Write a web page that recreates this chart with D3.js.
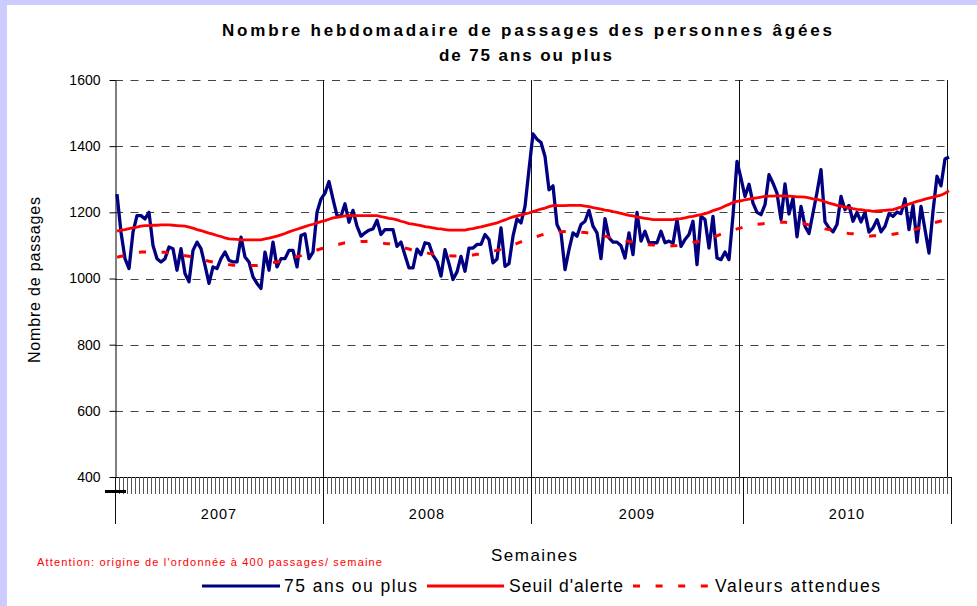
<!DOCTYPE html>
<html>
<head>
<meta charset="utf-8">
<script src="https://cdn.jsdelivr.net/npm/d3@7"></script>
<style>
  body { margin: 0; background: #fff; }
  text { font-family: Arial, "Liberation Sans", sans-serif; }
</style>
</head>
<body>
<svg id="graphe" width="977" height="606"></svg>
<script>
// Données
const annees = ["2007", "2008", "2009", "2010"];
const semainesParAnnee = [52, 52, 53, 52];
const ticksY = [400, 600, 800, 1000, 1200, 1400, 1600];

// 75 ans ou plus (passages hebdomadaires)
const passages = [
  // 2007
  1255,1140,1060,1030,1140,1190,1190,1180,1200,1100,1060,1050,1060,1095,1090,1025,1090,1015,990,1085,1110,1090,1040,985,1035,1030,
  1060,1080,1055,1050,1050,1125,1065,1050,1005,985,970,1080,1025,1110,1035,1060,1060,1085,1085,1035,1130,1135,1060,1080,1200,1240,
  // 2008
  1258,1293,1240,1190,1188,1226,1170,1206,1158,1128,1138,1146,1150,1176,1133,1148,1148,1148,1097,1110,1070,1032,1032,1089,1072,1108,
  1105,1070,1052,1007,1087,1045,997,1020,1067,1022,1092,1092,1103,1103,1133,1118,1047,1059,1153,1037,1045,1128,1180,1168,1218,1330,
  // 2009
  1437,1421,1411,1369,1268,1280,1163,1138,1027,1087,1138,1128,1163,1173,1206,1158,1138,1060,1181,1123,1110,1110,1099,1062,1138,1072,
  1200,1113,1143,1108,1108,1108,1143,1108,1113,1106,1178,1097,1118,1133,1173,1042,1188,1178,1092,1188,1062,1057,1080,1057,1190,1354,1303,
  // 2010
  1248,1285,1228,1200,1193,1223,1314,1288,1258,1178,1286,1195,1243,1126,1218,1158,1136,1198,1260,1329,1171,1153,1141,1163,1248,1208,
  1221,1173,1200,1171,1200,1140,1153,1178,1141,1158,1196,1188,1201,1196,1241,1148,1221,1110,1218,1148,1077,1203,1309,1280,1361,1367
];

// Seuil d'alerte
const seuil = [
  1143,1146,1148,1151,1153,1155,1158,1160,1160,1161,1161,1162,1162,1162,1161,1160,1159,1158,1155,1152,1148,1145,1141,1137,1134,1130,
  1127,1123,1120,1119,1118,1117,1117,1117,1117,1117,1117,1120,1122,1125,1128,1132,1136,1141,1145,1149,1153,1157,1161,1164,1168,1172,
  1175,1179,1183,1185,1187,1189,1190,1190,1190,1190,1190,1190,1190,1190,1187,1185,1182,1180,1177,1173,1170,1166,1164,1162,1160,1157,
  1155,1153,1151,1150,1148,1146,1146,1146,1146,1146,1149,1151,1154,1156,1159,1162,1165,1168,1173,1177,1182,1186,1189,1192,1195,1198,
  1202,1206,1210,1213,1217,1220,1220,1220,1220,1221,1221,1221,1221,1219,1217,1214,1212,1210,1207,1205,1202,1200,1197,1194,1191,1189,
  1186,1184,1182,1180,1178,1178,1178,1178,1178,1178,1180,1181,1183,1186,1188,1191,1193,1196,1200,1205,1209,1213,1219,1224,1230,1233,1235,
  1238,1240,1242,1244,1246,1248,1249,1249,1250,1250,1249,1249,1248,1247,1247,1246,1244,1241,1239,1236,1232,1228,1225,1221,1219,1216,
  1214,1211,1209,1208,1206,1205,1203,1204,1205,1206,1207,1208,1212,1216,1221,1225,1229,1233,1236,1240,1243,1246,1249,1252,1258,1265
];

// Valeurs attendues
const attendues = [
  1064,1067,1069,1072,1075,1077,1080,1080,1080,1080,1079,1079,1079,1077,1075,1073,1071,1069,1067,1064,1061,1058,1055,1052,1050,1048,
  1046,1044,1042,1040,1040,1040,1039,1039,1039,1039,1041,1043,1046,1048,1050,1053,1056,1060,1063,1066,1069,1073,1077,1082,1086,1090,
  1093,1096,1099,1102,1105,1108,1109,1110,1111,1112,1112,1113,1111,1110,1108,1106,1105,1103,1099,1096,1092,1089,1085,1083,1081,1079,
  1076,1074,1072,1071,1070,1069,1068,1068,1067,1068,1070,1071,1073,1074,1077,1080,1083,1085,1088,1091,1096,1101,1106,1111,1116,1120,
  1123,1127,1131,1134,1138,1139,1140,1141,1142,1142,1143,1142,1140,1139,1137,1136,1133,1131,1128,1125,1123,1120,1117,1115,1112,1110,
  1107,1105,1104,1102,1101,1099,1098,1097,1098,1099,1100,1102,1103,1106,1109,1111,1114,1117,1120,1125,1129,1134,1138,1143,1146,1150,1153,
  1156,1160,1163,1164,1165,1166,1167,1169,1170,1170,1170,1169,1169,1168,1168,1165,1162,1159,1156,1153,1150,1148,1145,1143,1140,1138,
  1136,1135,1133,1131,1130,1128,1129,1129,1130,1130,1131,1134,1136,1139,1141,1144,1146,1150,1155,1159,1164,1168,1171,1174,1177,1180
];

const svg = d3.select("#graphe");
const nbSemaines = d3.sum(semainesParAnnee);

// Fond et bordure
svg.append("rect").attr("width", 977).attr("height", 606).attr("fill", "#fff");
svg.append("rect").attr("width", 977).attr("height", 5).attr("fill", "#ccccff");
svg.append("rect").attr("width", 7).attr("height", 606).attr("fill", "#ccccff");

// Echelles
const x = d3.scaleBand().domain(d3.range(nbSemaines)).range([115, 951]);
const y = d3.scaleLinear().domain([400, 1600]).range([477, 80]);
const xPos = k => k < nbSemaines ? x(k) : x.range()[1];
const xMid = i => x(i) + x.bandwidth() / 2;

// Quadrillage horizontal (pointillés)
svg.append("g").selectAll("line")
  .data(ticksY.filter(v => v > 400))
  .join("line")
    .attr("x1", 115).attr("x2", 951)
    .attr("y1", d => Math.round(y(d)) + 0.5).attr("y2", d => Math.round(y(d)) + 0.5)
    .attr("stroke", "#444")
    .attr("stroke-dasharray", "8,7.5");

// Quadrillage vertical (toutes les 52 semaines)
svg.append("g").selectAll("line")
  .data(d3.range(52, nbSemaines, 52))
  .join("line")
    .attr("x1", d => Math.round(xPos(d)) + 0.5).attr("x2", d => Math.round(xPos(d)) + 0.5)
    .attr("y1", y(1600)).attr("y2", y(400))
    .attr("stroke", "#111");

// Axe Y
const axeY = svg.append("g")
  .attr("transform", "translate(115.5,0)")
  .call(d3.axisLeft(y).tickValues(ticksY).tickFormat(d3.format("d"))
    .tickSize(6).tickSizeOuter(0).tickPadding(9));
axeY.select(".domain").attr("stroke", "#000");
axeY.selectAll(".tick line").attr("stroke", "#000");
axeY.selectAll(".tick text")
  .attr("font-size", 14)
  .attr("font-family", "Arial, 'Liberation Sans', sans-serif")
  .attr("fill", "#000");

// Axe X : ligne, graduations hebdomadaires, séparateurs d'années
svg.append("line")
  .attr("x1", 115).attr("x2", 951)
  .attr("y1", 477.5).attr("y2", 477.5)
  .attr("stroke", "#000");

svg.append("g").selectAll("line")
  .data(d3.range(0, nbSemaines + 1))
  .join("line")
    .attr("x1", d => Math.round(xPos(d)) + 0.5).attr("x2", d => Math.round(xPos(d)) + 0.5)
    .attr("y1", 477).attr("y2", 494)
    .attr("stroke", "#555");

const debuts = [0].concat(Array.from(d3.cumsum(semainesParAnnee)));
svg.append("g").selectAll("line")
  .data(debuts)
  .join("line")
    .attr("x1", d => Math.round(xPos(d)) + 0.5).attr("x2", d => Math.round(xPos(d)) + 0.5)
    .attr("y1", 477).attr("y2", 524)
    .attr("stroke", "#111");

svg.append("g").selectAll("text")
  .data(annees)
  .join("text")
    .attr("x", (d, i) => (xPos(debuts[i]) + xPos(debuts[i + 1])) / 2)
    .attr("y", 519)
    .attr("text-anchor", "middle")
    .attr("font-size", 14.5)
    .attr("letter-spacing", 1)
    .text(d => d);

// petit trait noir sous l'origine
svg.append("rect").attr("x", 105).attr("y", 490).attr("width", 21).attr("height", 3).attr("fill", "#000");

// Séries
const ligne = d3.line().x((d, i) => xMid(i)).y(d => y(d));

svg.append("path")
  .datum(passages)
  .attr("d", ligne)
  .attr("fill", "none")
  .attr("stroke", "#000080")
  .attr("stroke-width", 3.3)
  .attr("stroke-linejoin", "round");

svg.append("path")
  .datum(seuil)
  .attr("d", ligne)
  .attr("fill", "none")
  .attr("stroke", "#ff0000")
  .attr("stroke-width", 2.8);

svg.append("path")
  .datum(attendues)
  .attr("d", ligne)
  .attr("fill", "none")
  .attr("stroke", "#ff0000")
  .attr("stroke-width", 3)
  .attr("stroke-dasharray", "7,15.6");

// Titres
svg.append("text")
  .attr("x", 527).attr("y", 36)
  .attr("text-anchor", "middle")
  .attr("font-size", 17).attr("font-weight", "bold")
  .attr("textLength", 610).attr("lengthAdjust", "spacing")
  .text("Nombre hebdomadaire de passages des personnes âgées");
svg.append("text")
  .attr("x", 525.5).attr("y", 61)
  .attr("text-anchor", "middle")
  .attr("font-size", 17).attr("font-weight", "bold")
  .attr("textLength", 173).attr("lengthAdjust", "spacing")
  .text("de 75 ans ou plus");

svg.append("text")
  .attr("transform", "translate(39.5,280) rotate(-90)")
  .attr("text-anchor", "middle")
  .attr("font-size", 16)
  .attr("textLength", 166).attr("lengthAdjust", "spacing")
  .text("Nombre de passages");

svg.append("text")
  .attr("x", 534).attr("y", 561)
  .attr("text-anchor", "middle")
  .attr("font-size", 17)
  .attr("textLength", 86).attr("lengthAdjust", "spacing")
  .text("Semaines");

svg.append("text")
  .attr("x", 37).attr("y", 566)
  .attr("font-size", 11)
  .attr("fill", "#ff0000")
  .attr("textLength", 345).attr("lengthAdjust", "spacing")
  .text("Attention: origine de l'ordonnée à 400 passages/ semaine");

// Légende
const legende = [
  {nom: "75 ans ou plus", couleur: "#000080", x1: 202, x2: 280, tx: 284, lg: 133, tirets: null},
  {nom: "Seuil d'alerte", couleur: "#ff0000", x1: 427, x2: 504, tx: 509, lg: 114, tirets: null},
  {nom: "Valeurs attendues", couleur: "#ff0000", x1: 633, x2: 709, tx: 715, lg: 165, tirets: "7,15.6"}
];
const gl = svg.append("g");
legende.forEach(l => {
  gl.append("line")
    .attr("x1", l.x1).attr("x2", l.x2)
    .attr("y1", 586).attr("y2", 586)
    .attr("stroke", l.couleur)
    .attr("stroke-width", 3)
    .attr("stroke-dasharray", l.tirets);
  gl.append("text")
    .attr("x", l.tx).attr("y", 592)
    .attr("font-size", 17.5)
    .attr("textLength", l.lg).attr("lengthAdjust", "spacing")
    .text(l.nom);
});
</script>
</body>
</html>
